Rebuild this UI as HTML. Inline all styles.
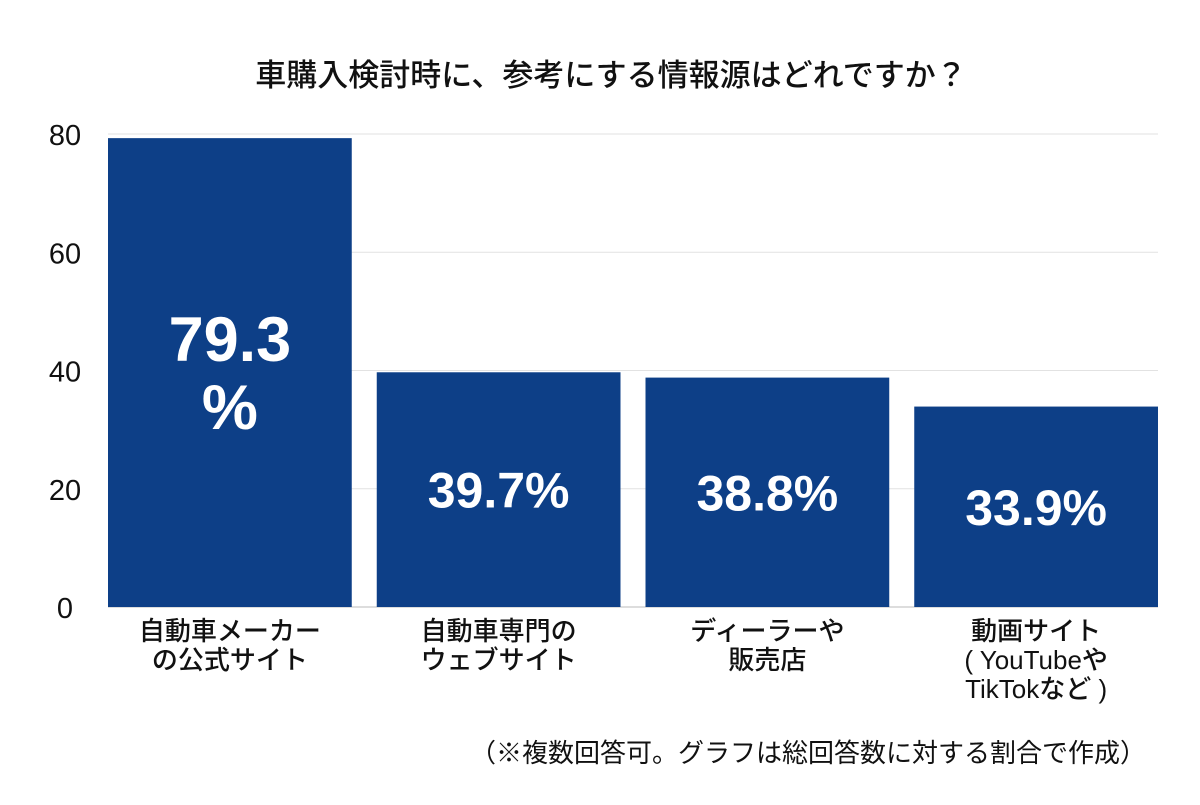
<!DOCTYPE html>
<html><head><meta charset="utf-8">
<style>
html,body{margin:0;padding:0;background:#fff;}
body{width:1200px;height:800px;overflow:hidden;font-family:"Liberation Sans","Noto Sans CJK JP",sans-serif;}
</style></head>
<body>
<svg id="chart" width="1200" height="800" xmlns="http://www.w3.org/2000/svg" font-family="'Liberation Sans','Noto Sans CJK JP',sans-serif">
<text x="611" y="86" text-anchor="middle" font-size="31" font-weight="500" fill="#111">車購入検討時に、参考にする情報源はどれですか？</text>
<g id="grid"></g>
<g id="bars"></g>
<g id="labels"></g>
<text x="1146" y="762" text-anchor="end" font-size="26" fill="#111">（※複数回答可。グラフは総回答数に対する割合で作成）</text>
</svg>
<script>
const categories=[["自動車メーカー","の公式サイト"],["自動車専門の","ウェブサイト"],["ディーラーや","販売店"],["動画サイト","( YouTubeや","TikTokなど )"]];
const values=[79.3,39.7,38.8,33.9];
const valueLabels=[["79.3","%"],["39.7%"],["38.8%"],["33.9%"]];
const ticks=[0,20,40,60,80];
const NS="http://www.w3.org/2000/svg";
const x0=108,x1=1158,yBase=607,yTop=134,yMax=80,gap=25;
const y=v=>yBase-(v/yMax)*(yBase-yTop);
const band=(x1-x0+gap)/categories.length;
const bx=i=>x0+i*band;
function mk(tag,attrs,parent,text){const e=document.createElementNS(NS,tag);for(const k in attrs)e.setAttribute(k,attrs[k]);if(text!==undefined)e.textContent=text;parent.appendChild(e);return e;}
const grid=document.getElementById('grid'),bars=document.getElementById('bars'),labels=document.getElementById('labels');
ticks.forEach(t=>{
  const l=mk('line',{x1:x0,x2:x1,y1:y(t),y2:y(t),stroke:t===0?'#bbb':'#e2e2e2','stroke-width':1},grid);
  
  
  const tx=mk('text',{x:65,y:y(t)+11,'text-anchor':'middle','font-size':29,fill:'#111'},grid,String(t));
  
  
});
values.forEach((v,i)=>{
  const w=band-gap, x=bx(i);
  const r=mk('rect',{x:x,y:y(v),width:w,height:yBase-y(v),fill:'#0d3f87'},bars);
  
  
  const cx=x+w/2, cy=(y(v)+yBase)/2;
  const lines=valueLabels[i];
  const fs=lines.length>1?63:50, lh=68;
  lines.forEach((s,j)=>{
    const t=mk('text',{x:cx,y:cy+fs*0.36+(j-(lines.length-1)/2)*lh,'text-anchor':'middle','font-size':fs,'font-weight':'bold',fill:'#fff'},labels,s);
    
    
  });
  categories[i].forEach((s,j)=>{
    const t=mk('text',{x:cx,y:640+j*29,'text-anchor':'middle','font-size':26,'font-weight':'500',fill:'#111'},labels,s);
    
    
  });
});
</script>
</body></html>
